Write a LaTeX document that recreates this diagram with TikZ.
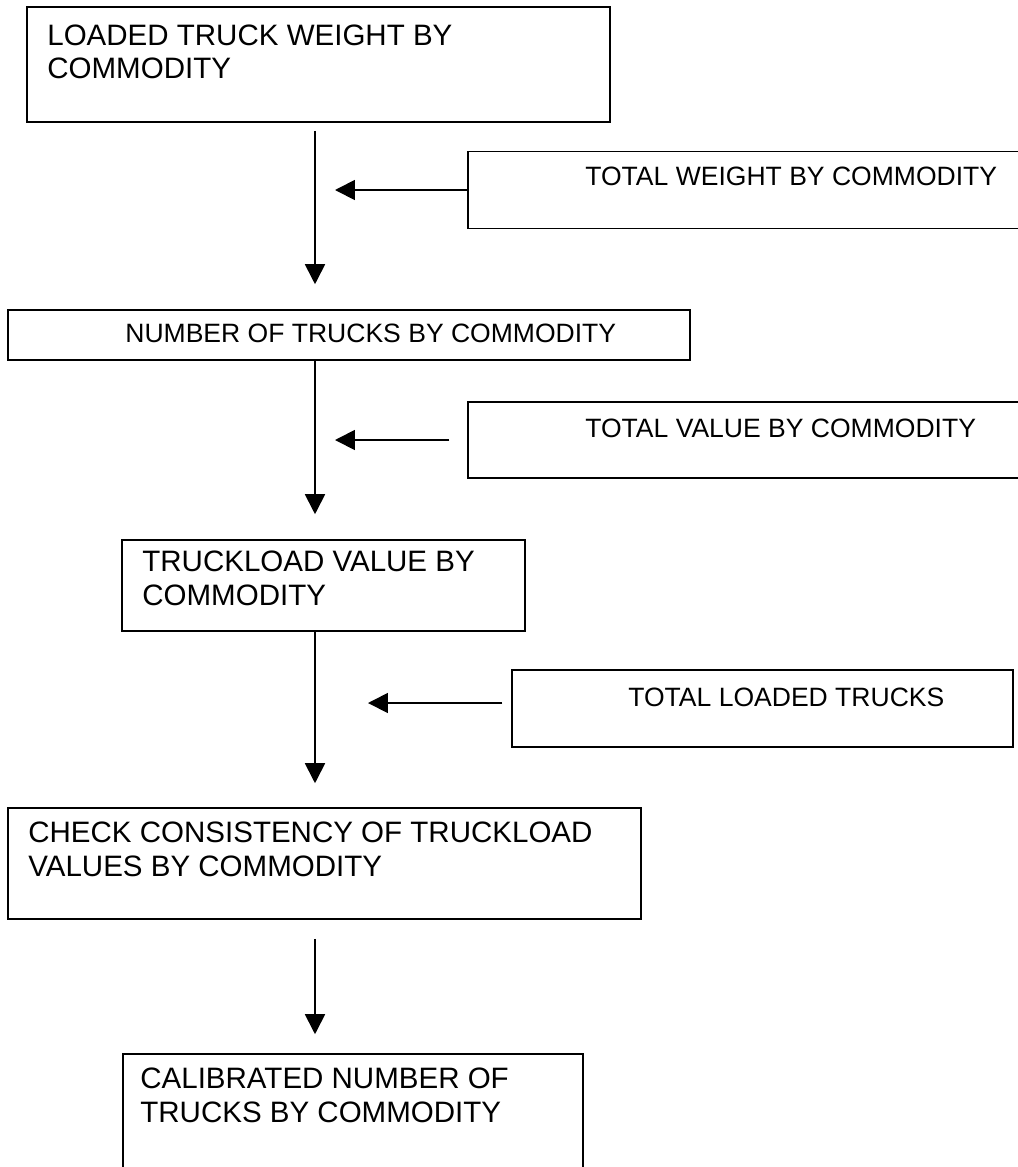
\documentclass[tikz,border=0pt]{standalone}
\usepackage{fontspec}
\setmainfont{Liberation Sans}
\usetikzlibrary{arrows.meta,positioning}
\tikzset{
    flowbox/.style={
        draw=black,
        fill=none,
        line width=0.9pt,
        inner sep=0pt
    },
    flowtext/.style={
        anchor=north west,
        inner sep=0pt,
        align=left,
        font=\fontsize{15.1pt}{18.8pt}\selectfont
    },
    flowtextbig/.style={
        flowtext,
        font=\fontsize{16.8pt}{18.8pt}\selectfont
    },
    flowarrow/.style={
        -{Triangle[length=0.4cm,width=0.4cm]},
        draw=black,
        line width=1pt
    }
}

\begin{document}
\begin{tikzpicture}[x=0.02cm,y=-0.02cm]
    \useasboundingbox (0,0) rectangle (1018,1167);
    \clip (0,0) rectangle (1018,1167);
    \coordinate (spine) at (315,0);

    % main chain
    \node[flowbox,minimum width=11.66cm,minimum height=2.30cm] (loaded) at (318.5,64.5) {};
    \node[flowtextbig] (loadedtext) at (47,25) {LOADED TRUCK WEIGHT BY\\COMMODITY};

    \node[flowbox,minimum width=13.64cm,minimum height=1.00cm] (ntrucks) at (349,335) {};
    \node[flowtext] (ntruckstext) at (125,323.5) {NUMBER OF TRUCKS BY COMMODITY};

    \node[flowbox,minimum width=8.06cm,minimum height=1.82cm] (tlvalue) at (323.5,585.5) {};
    \node[flowtextbig] (tlvaluetext) at (142,551) {TRUCKLOAD VALUE BY\\COMMODITY};

    \node[flowbox,minimum width=12.66cm,minimum height=2.22cm] (check) at (324.5,863.5) {};
    \node[flowtextbig] (checktext) at (28,822) {CHECK CONSISTENCY OF TRUCKLOAD\\VALUES BY COMMODITY};

    \node[flowbox,minimum width=9.20cm,minimum height=2.92cm] (calib) at (353,1127) {};
    \node[flowtextbig] (calibtext) at (140,1068) {CALIBRATED NUMBER OF\\TRUCKS BY COMMODITY};

    % side inputs
    \node[flowbox,minimum width=11.44cm,minimum height=1.54cm] (totweight) at (754,190) {};
    \node[flowtext] (totweighttext) at (585,166.5) {TOTAL WEIGHT BY COMMODITY};

    \node[flowbox,minimum width=11.44cm,minimum height=1.52cm] (totvalue) at (754,440) {};
    \node[flowtext] (totvaluetext) at (585,418.5) {TOTAL VALUE BY COMMODITY};

    \node[flowbox,minimum width=10.02cm,minimum height=1.54cm] (totloaded) at (762.5,708.5) {};
    \node[flowtext] (totloadedtext) at (628,687.5) {TOTAL LOADED TRUCKS};
    \coordinate (loadedin) at ([yshift=0.11cm]totloaded.west);

    % arrows down the spine
    \draw[flowarrow,shorten <=0.16cm,shorten >=0.5cm] (spine |- loaded.south) -- (spine |- ntrucks.north);
    \draw[flowarrow,shorten >=0.5cm] (spine |- ntrucks.south) -- (spine |- tlvalue.north);
    \draw[flowarrow,shorten >=0.48cm] (spine |- tlvalue.south) -- (spine |- check.north);
    \draw[flowarrow,shorten <=0.38cm,shorten >=0.38cm] (spine |- check.south) -- (spine |- calib.north);

    % arrows from the side inputs
    \draw[flowarrow,shorten >=0.4cm] (totweight.west) -- (spine |- totweight.west);
    \draw[flowarrow,shorten <=0.36cm,shorten >=0.4cm] (totvalue.west) -- (spine |- totvalue.west);
    \draw[flowarrow,shorten <=0.18cm,shorten >=1.06cm] (loadedin) -- (spine |- loadedin);
\end{tikzpicture}
\end{document}
